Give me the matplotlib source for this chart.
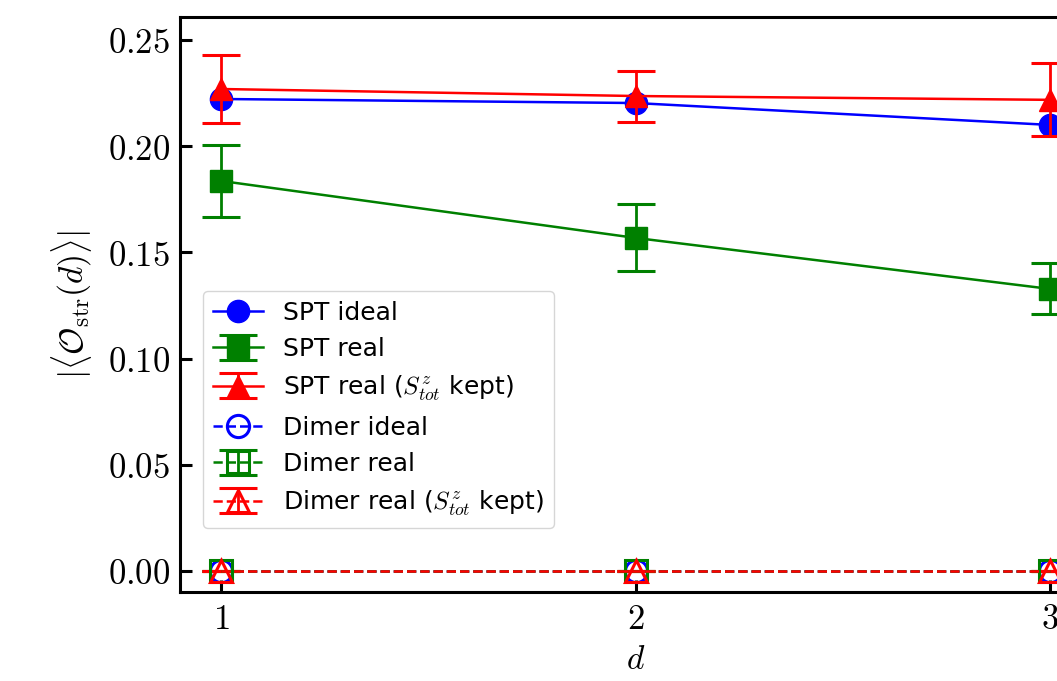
import matplotlib
matplotlib.use("Agg")
import matplotlib.pyplot as plt
from matplotlib.ticker import FuncFormatter

plt.rcParams['mathtext.fontset'] = 'cm'
plt.rcParams['font.family'] = ['DejaVu Sans']

# string order parameter vs distance d
d = [1, 2, 3]
spt_ideal = [0.2222, 0.2203, 0.2100]
spt_real = [0.1836, 0.1568, 0.1328]
spt_real_err = [0.0170, 0.0158, 0.0120]
spt_kept = [0.2269, 0.2236, 0.2218]
spt_kept_err = [0.0158, 0.0120, 0.0172]
dimer_ideal = [0.0, 0.0, 0.0]
dimer_real = [0.0, 0.0, 0.0]
dimer_real_err = [0.0, 0.0, 0.0]
dimer_kept = [0.0, 0.0, 0.0]
dimer_kept_err = [0.0, 0.0, 0.0]

xticks = [1, 2, 3]
yticks = [0.00, 0.05, 0.10, 0.15, 0.20, 0.25]

fig = plt.figure(figsize=(10.57, 6.81), dpi=100)
ax = fig.add_axes([180/1057, 89/681, 911/1057, 575/681])

ms = 16
lw = 1.8
elw = 2.0
cs = 13.5
ct = 2.2
handles = []

h, = ax.plot(d, spt_ideal, '-o', color='blue', ms=ms, lw=lw, label='SPT ideal')
handles.append(h)
h = ax.errorbar(d, spt_real, yerr=spt_real_err, fmt='-s', color='green', ms=ms,
                lw=lw, elinewidth=elw, capsize=cs, capthick=ct, label='SPT real')
handles.append(h)
h = ax.errorbar(d, spt_kept, yerr=spt_kept_err, fmt='-^', color='red', ms=ms,
                lw=lw, elinewidth=elw, capsize=cs, capthick=ct,
                label=r'SPT real ($S^z_{tot}$ kept)')
handles.append(h)

h, = ax.plot(d, dimer_ideal, '--o', color='blue', ms=ms, lw=lw, mfc='none', mew=2.2,
             label='Dimer ideal')
handles.append(h)
h = ax.errorbar(d, dimer_real, yerr=dimer_real_err, fmt='--s', color='green', ms=ms,
                lw=lw, mfc='none', mew=2.2, elinewidth=elw, capsize=cs, capthick=ct,
                label='Dimer real')
handles.append(h)
h = ax.errorbar(d, dimer_kept, yerr=dimer_kept_err, fmt='--^', color='red', ms=ms,
                lw=lw, mfc='none', mew=2.2, elinewidth=elw, capsize=cs, capthick=ct,
                label=r'Dimer real ($S^z_{tot}$ kept)')
handles.append(h)

ax.set_xlim(0.9, 3.1)
ax.set_ylim(-0.0099, 0.2608)
ax.set_xticks(xticks)
ax.set_yticks(yticks)
ax.xaxis.set_major_formatter(FuncFormatter(lambda v, p: '$%d$' % v))
ax.yaxis.set_major_formatter(FuncFormatter(lambda v, p: '$%.2f$' % v))
ax.tick_params(direction='in', length=8.5, width=2.2, labelsize=25, pad=7)

for s in ax.spines.values():
    s.set_linewidth(2.2)

ax.set_xlabel(r'$d$', fontsize=24, labelpad=5)
ax.set_ylabel(r'$|\langle \mathcal{O}_{\rm str}(d) \rangle|$', fontsize=24, labelpad=10)

ax.legend(handles=handles, loc='lower left', bbox_to_anchor=(23/911, 64/575),
          borderaxespad=0, fontsize=18, numpoints=1)

fig.savefig('out.png', dpi=100)
